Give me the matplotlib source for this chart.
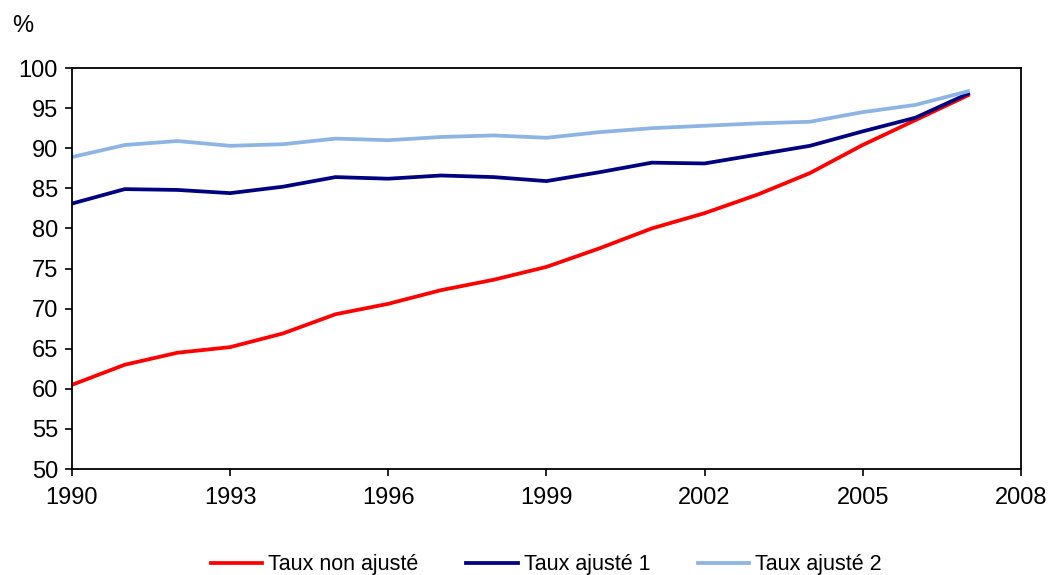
import matplotlib.pyplot as plt

YEARS = list(range(1990, 2008))

TAUX_NON_AJUSTE = [60.5, 63.0, 64.5, 65.2, 66.9, 69.3, 70.6, 72.3, 73.6, 75.2,
                   77.5, 80.0, 81.9, 84.2, 86.9, 90.4, 93.5, 96.6]
TAUX_AJUSTE_1 = [83.1, 84.9, 84.8, 84.4, 85.2, 86.4, 86.2, 86.6, 86.4, 85.9,
                 87.0, 88.2, 88.1, 89.2, 90.3, 92.1, 93.8, 96.8]
TAUX_AJUSTE_2 = [88.9, 90.4, 90.9, 90.3, 90.5, 91.2, 91.0, 91.4, 91.6, 91.3,
                 92.0, 92.5, 92.8, 93.1, 93.3, 94.5, 95.4, 97.1]

LABELS = ["Taux non ajusté", "Taux ajusté 1", "Taux ajusté 2"]
COLORS = ["#FF0000", "#000080", "#8EB4E3"]

plt.rcParams["font.family"] = ["Liberation Sans", "DejaVu Sans"]

fig = plt.figure(figsize=(10.48, 5.75), dpi=100)
ax = fig.add_axes([0.0687, 0.1843, 0.9053, 0.6974])

for series, label, color in zip([TAUX_NON_AJUSTE, TAUX_AJUSTE_1, TAUX_AJUSTE_2], LABELS, COLORS):
    ax.plot(YEARS, series, color=color, lw=2.7, label=label)

ax.set_xlim(1990, 2008)
ax.set_ylim(50, 100)
ax.set_xticks(range(1990, 2009, 3))
ax.set_yticks(range(50, 101, 5))
ax.tick_params(axis="both", direction="out", length=5, width=1.2, labelsize=17, colors="black")
ax.tick_params(axis="y", pad=5)
ax.tick_params(axis="x", pad=8)
for s in ax.spines.values():
    s.set_linewidth(1.3)

fig.text(0.012, 0.955, "%", fontsize=17, ha="left", va="center")

ax.legend(loc="upper center", bbox_to_anchor=(0.5, -0.175), ncol=3, frameon=False,
          fontsize=15.5, handlelength=2.4, handletextpad=0.28, columnspacing=2.2,
          borderpad=0.2)

fig.savefig("out.png", dpi=100)
